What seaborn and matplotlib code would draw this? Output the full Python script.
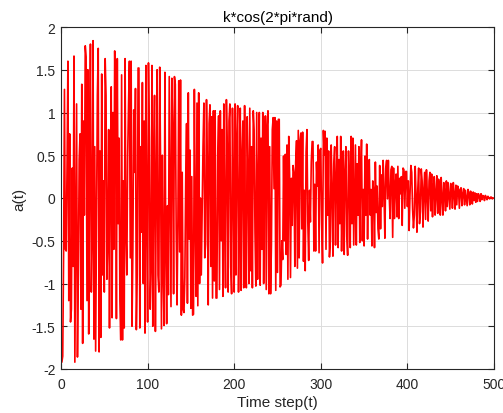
import numpy as np
import pandas as pd
import matplotlib
matplotlib.use("Agg")
import matplotlib.pyplot as plt
import seaborn as sns

title = "k*cos(2*pi*rand)"
xlabel = "Time step(t)"
ylabel = "a(t)"
xticks = [0, 100, 200, 300, 400, 500]
yticks = [-2, -1.5, -1, -0.5, 0, 0.5, 1, 1.5, 2]
ytick_labels = ["-2", "-1.5", "-1", "-0.5", "0", "0.5", "1", "1.5", "2"]

a_001_100 = [
    -1.92, -1.85, -0.65, 1.27, -0.6, -0.62, 0.4, 1.6, -1.2, 0.75,
    -1.45, -1.3, 0.35, -0.8, 1.66, -1.92, -0.5, 1.1, -1.86, -0.9,
    0.45, 0.75, -1.3, 1.33, -1.7, 0.9, -0.2, 1.78, 1.65, -1.2,
    1.5, -1.59, 0.4, 1.8, -1.1, -0.45, 1.84, -1.65, 0.6, -1.79,
    -0.3, 1.2, 1.75, -1.8, 0.55, -1.63, 1.45, -0.9, 0.2, -1.1,
    1.63, 1.2, -0.95, -0.5, 0.8, -1.52, 0.35, 1.3, -1.4, 1.0,
    -0.6, 1.72, 0.94, -1.41, 1.63, -0.3, 0.7, -1.2, -1.66, 1.44,
    -1.66, 0.2, -1.52, 1.63, -0.4, -0.9, 0.5, 1.1, 1.6, -0.7,
    1.6, -1.5, -0.6, 1.03, 0.3, 1.28, -1.54, -0.9, 1.52, 1.52,
    -1.52, 0.6, -0.4, 1.35, -1.0, 0.9, -1.58, 1.55, -0.2, -1.45,
]
a_101_200 = [
    1.58, 0.7, -1.3, -0.8, 1.55, -1.5, 0.4, 1.2, -1.56, 0.1,
    1.5, -0.9, -1.1, 1.53, 0.38, -1.53, 0.5, -0.9, -1.49, 1.47,
    -0.6, -1.47, -0.09, -1.13, 1.42, 0.14, -1.27, 1.4, 0.79, -1.12,
    1.42, 1.33, -0.36, -1.25, -0.24, 1.37, -0.63, 1.38, -1.37, 0.3,
    -1.3, -1.34, -0.93, 0.2, 0.87, -1.23, 1.23, -0.48, 0.56, -1.29,
    0.25, -1.37, -1.36, 1.27, -0.28, -1.15, 1.11, -1.26, 1.23, -1.0,
    0.0, -0.9, -0.17, 0.6, 1.11, -0.7, -0.54, 1.15, 0.4, -1.25,
    0.87, 1.09, -0.8, 0.95, -1.17, 1.02, -0.97, 1.02, -1.17, -1.17,
    0.5, 0.96, -1.07, 1.02, -0.5, 0.8, -1.15, 1.1, -0.3, -1.05,
    1.15, 0.6, -1.1, 0.9, 1.1, -0.8, -1.12, 1.05, 0.2, -1.1,
]
a_201_300 = [
    1.1, -0.9, 0.7, 1.08, -1.1, -0.2, 1.05, -1.08, 0.5, 0.9,
    -1.05, 1.08, -0.6, -1.05, 0.95, 0.3, -1.0, 1.05, -0.85, 0.6,
    -1.05, 1.02, 0.8, -0.4, -1.03, 1.0, -0.95, 0.2, 1.0, -1.02,
    0.7, -0.6, 1.0, -1.0, 0.45, 0.96, -1.07, 0.85, 1.02, -1.12,
    0.6, -1.12, -0.54, 0.8, 0.94, 0.11, 0.94, -1.08, 0.9, -0.87,
    0.92, 0.92, -1.04, -1.02, -0.5, -0.72, 0.49, -0.5, 0.51, -0.66,
    0.62, -0.95, 0.72, 0.27, -0.93, 0.23, -0.32, 0.38, 0.3, -0.8,
    0.42, 0.67, -0.82, 0.79, -0.7, 0.67, 0.76, -0.36, 0.77, -0.74,
    0.09, -0.85, 0.54, 0.8, -0.28, -0.73, 0.09, -0.28, 0.42, 0.66,
    0.66, -0.62, 0.16, -0.62, 0.42, 0.14, 0.62, -0.64, 0.56, 0.58,
]
a_301_400 = [
    -0.3, -0.76, 0.79, 0.5, 0.78, -0.6, 0.7, -0.2, 0.55, -0.69,
    -0.5, 0.62, 0.1, -0.68, 0.4, 0.6, -0.55, 0.2, 0.72, -0.58,
    0.45, -0.3, 0.72, -0.62, 0.1, 0.55, -0.66, 0.3, 0.6, -0.45,
    -0.67, 0.55, 0.2, -0.58, 0.72, -0.3, 0.7, -0.55, 0.0, 0.62,
    -0.55, 0.4, -0.2, 0.6, -0.52, 0.3, 0.68, -0.5, 0.1, -0.56,
    0.49, -0.2, 0.63, -0.48, 0.3, 0.45, -0.2, 0.1, -0.56, 0.2,
    0.09, -0.58, 0.42, -0.17, 0.14, -0.36, -0.48, 0.38, -0.36, 0.27,
    -0.1, 0.44, 0.05, -0.47, 0.35, 0.44, -0.01, 0.44, 0.03, -0.24,
    0.33, 0.37, -0.46, 0.35, -0.24, 0.14, 0.28, -0.22, 0.37, -0.24,
    0.23, 0.05, 0.25, -0.32, 0.35, 0.33, -0.12, 0.31, 0.31, -0.1,
]
a_401_500 = [
    0.2, -0.38, 0.04, 0.38, 0.3, -0.13, -0.35, -0.2, 0.37, 0.03,
    -0.4, 0.1, 0.35, -0.3, -0.16, 0.34, 0.2, -0.34, 0.1, 0.3,
    -0.25, 0.33, 0.05, -0.27, 0.2, 0.3, -0.15, 0.28, -0.22, 0.1,
    0.25, -0.2, 0.05, 0.26, -0.18, 0.22, 0.12, -0.2, 0.24, 0.0,
    -0.2, 0.18, 0.05, -0.15, 0.2, -0.1, 0.18, 0.02, -0.13, 0.17,
    0.12, -0.12, 0.18, 0.05, -0.13, 0.15, -0.08, 0.14, 0.1, -0.12,
    0.1, 0.12, -0.09, 0.05, 0.11, -0.08, 0.09, 0.0, -0.09, 0.1,
    0.06, -0.08, 0.08, 0.03, -0.07, 0.07, -0.03, 0.06, -0.05, 0.05,
    -0.04, 0.05, 0.02, -0.04, 0.05, -0.02, 0.03, 0.02, -0.03, 0.03,
    0.01, -0.02, 0.02, 0.0, -0.01, 0.01, 0.01, -0.01, 0.0, 0.0,
]

values = a_001_100 + a_101_200 + a_201_300 + a_301_400 + a_401_500
steps = list(range(1, len(values) + 1))
df = pd.DataFrame({"t": steps, "a": values})

sns.set_theme(style="white")
plt.rcParams["font.family"] = ["Liberation Sans", "DejaVu Sans"]
plt.rcParams["axes.unicode_minus"] = False

fig = plt.figure(figsize=(5.03, 4.14), dpi=100)
ax = fig.add_axes([61 / 503, 44 / 414, 433 / 503, 342 / 414])

sns.lineplot(data=df, x="t", y="a", ax=ax, color="#ff0000", linewidth=1.2)

ax.set_xlim(0, 500)
ax.set_ylim(-2, 2)
ax.set_xticks(xticks)
ax.set_xticklabels([str(v) for v in xticks])
ax.set_yticks(yticks)
ax.set_yticklabels(ytick_labels)
ax.grid(True, color="#dcdcdc", linewidth=0.7)
ax.set_axisbelow(True)
for s in ax.spines.values():
    s.set_color("#262626")
    s.set_linewidth(0.8)
ax.tick_params(direction="in", length=4, width=0.8, colors="#262626",
               labelsize=10, top=True, right=True, bottom=True, left=True,
               labelcolor="#262626", pad=4)
ax.tick_params(axis="x", pad=6)
ax.set_title(title, fontsize=11, color="#000000", pad=4)
ax.set_xlabel(xlabel, fontsize=11, color="#262626", labelpad=3)
ax.set_ylabel(ylabel, fontsize=11, color="#262626", labelpad=4)

fig.savefig("out.png", dpi=100, facecolor="white")
